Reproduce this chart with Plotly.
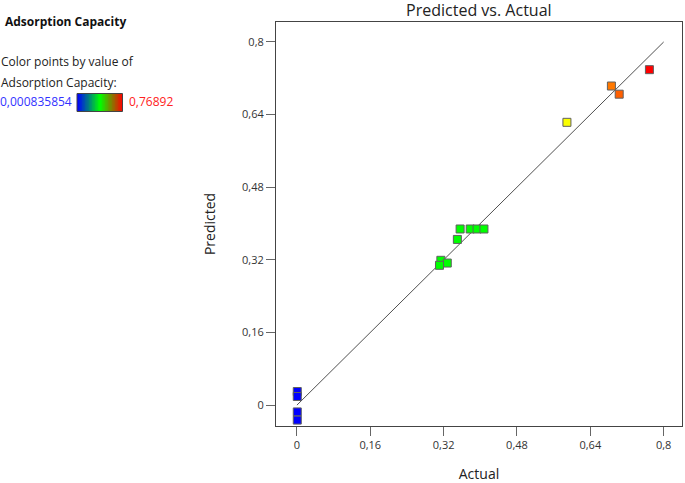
import plotly.graph_objects as go
import numpy as np

# ---- data ----
actual = [0.0008, 0.0008, 0.0008, 0.0008,
          0.356, 0.378, 0.393, 0.408, 0.350, 0.314, 0.328, 0.311,
          0.589, 0.686, 0.703, 0.76892]
predicted = [0.030, 0.019, -0.015, -0.033,
             0.388, 0.388, 0.388, 0.388, 0.365, 0.319, 0.313, 0.308,
             0.623, 0.703, 0.685, 0.739]
cmin_val = 0.000835854
cmax_val = 0.76892
tick_vals = [0, 0.16, 0.32, 0.48, 0.64, 0.8]
tick_text = ["0", "0,16", "0,32", "0,48", "0,64", "0,8"]
line_ends = [0, 0.8]

FONT = "Open Sans, Noto Sans, sans-serif"
W, H = 685, 483
T, B, R = 22, 57, 3
paper_w = W - R
plot_h = H - T - B

def px_x(p):
    return p / paper_w

def px_y(p):
    return (H - B - p) / plot_h

point_scale = [[0, "rgb(0,0,255)"], [0.38, "rgb(0,255,0)"], [0.55, "rgb(0,255,0)"],
               [0.77, "rgb(255,255,0)"], [1, "rgb(255,0,0)"]]
bar_scale = [[0, "rgb(0,0,255)"], [0.5, "rgb(0,255,0)"], [1, "rgb(255,0,0)"]]

fig = go.Figure()
fig.add_trace(go.Scatter(
    x=line_ends, y=line_ends, mode="lines",
    line=dict(color="#505050", width=1), hoverinfo="skip", showlegend=False))
fig.add_trace(go.Scatter(
    x=actual, y=predicted, mode="markers",
    marker=dict(symbol="square", size=8, color=actual, cmin=cmin_val, cmax=cmax_val,
                colorscale=point_scale, line=dict(color="#606060", width=1)),
    showlegend=False))

# legend gradient bar
grad = np.linspace(0, 1, 60)
fig.add_trace(go.Heatmap(z=[grad], colorscale=bar_scale, showscale=False,
                         xaxis="x2", yaxis="y2", hoverinfo="skip"))

axis_common = dict(showgrid=False, zeroline=False, showline=True, linecolor="#444444",
                   linewidth=1, mirror=True, ticks="outside", ticklen=9, tickcolor="#666666",
                   tickvals=tick_vals, ticktext=tick_text, automargin=True,
                   tickfont=dict(family=FONT, size=11, color="#333333"))

fig.update_layout(
    width=W, height=H,
    margin=dict(l=0, r=R, t=T, b=B, autoexpand=False),
    plot_bgcolor="white", paper_bgcolor="white",
    title=dict(text="Predicted vs. Actual", x=(276 + 681.7) / 2 / paper_w, xref="paper",
               xanchor="center", y=1 - 10.5 / H, yanchor="middle",
               font=dict(family=FONT, size=16, color="#222222")),
    xaxis=dict(domain=[px_x(276), 1], range=[-0.0456, 0.840],
               title=dict(text="Actual", font=dict(family=FONT, size=14, color="#222222"), standoff=28),
               **axis_common),
    yaxis=dict(range=[-0.046, 0.844],
               title=dict(text="Predicted", font=dict(family=FONT, size=14, color="#222222"), standoff=23),
               **axis_common),
    xaxis2=dict(domain=[px_x(77), px_x(122.5)], anchor="y2", visible=False, showgrid=False),
    yaxis2=dict(domain=[px_y(111.5), px_y(93.5)], anchor="x2", visible=False, showgrid=False),
    shapes=[dict(type="rect", xref="paper", yref="paper",
                 x0=px_x(77), x1=px_x(122.5), y0=px_y(111.5), y1=px_y(93.5),
                 line=dict(color="#444444", width=1))],
    annotations=[
        dict(text="<b>Adsorption Capacity</b>", x=px_x(3), y=px_y(21), xref="paper", yref="paper",
             xanchor="left", yanchor="middle", showarrow=False,
             font=dict(family=FONT, size=12, color="#111111")),
        dict(text="Color points by value of", x=px_x(-1), y=px_y(62), xref="paper", yref="paper",
             xanchor="left", yanchor="middle", showarrow=False,
             font=dict(family=FONT, size=12, color="#222222")),
        dict(text="Adsorption Capacity:", x=px_x(-1), y=px_y(82), xref="paper", yref="paper",
             xanchor="left", yanchor="middle", showarrow=False,
             font=dict(family=FONT, size=12, color="#222222")),
        dict(text="0,000835854", x=px_x(-2), y=px_y(102), xref="paper", yref="paper",
             xanchor="left", yanchor="middle", showarrow=False,
             font=dict(family=FONT, size=12, color="#3333ff")),
        dict(text="0,76892", x=px_x(127), y=px_y(102), xref="paper", yref="paper",
             xanchor="left", yanchor="middle", showarrow=False,
             font=dict(family=FONT, size=12, color="#ff2222")),
    ],
)

fig.write_html("out.html", config={"displayModeBar": False},
               post_script="document.body.style.margin='0';document.body.style.overflow='hidden';")
